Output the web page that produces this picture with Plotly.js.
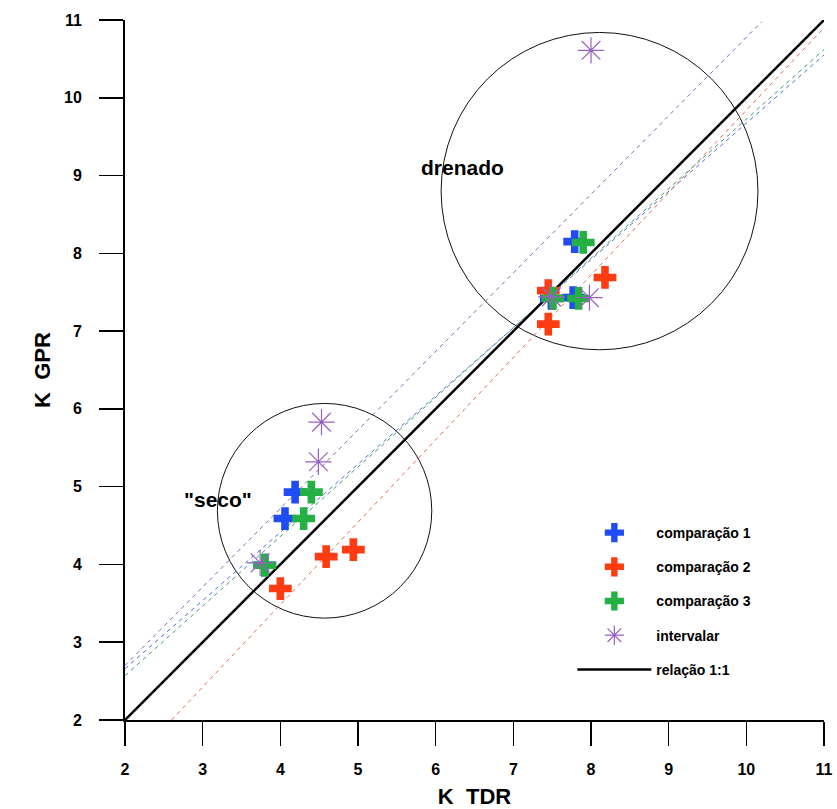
<!DOCTYPE html>
<html>
<head>
<meta charset="utf-8">
<script src="https://cdn.plot.ly/plotly-3.0.1.min.js"></script>
<style>html,body{margin:0;padding:0;background:#fff;}#chart{width:837px;height:809px;}</style>
</head>
<body>
<div id="chart"></div>
<script>
// ---- data ----
const comp1X = [4.19, 4.06, 3.80, 7.79, 7.77, 7.49];
const comp1Y = [4.93, 4.59, 3.99, 8.15, 7.43, 7.42];
const comp2X = [4.94, 4.59, 4.00, 8.18, 7.45, 7.45];
const comp2Y = [4.19, 4.10, 3.69, 7.69, 7.52, 7.09];
const comp3X = [4.40, 4.30, 3.80, 7.90, 7.51, 7.84];
const comp3Y = [4.93, 4.59, 3.99, 8.14, 7.42, 7.42];
const intervX = [3.74, 4.53, 4.49, 7.49, 7.98, 8.00];
const intervY = [4.02, 5.83, 5.32, 7.44, 7.43, 10.61];
// 1:1 line
const oneX = [2, 11];
const oneY = [2, 11];
// fitted (dashed) lines, end points
const fit1X = [2, 11];    const fit1Y = [2.66, 10.55];
const fit2X = [2.6, 11];  const fit2Y = [2, 10.9];
const fit3X = [2, 11];    const fit3Y = [2.57, 10.62];
const fitIX = [2, 10.2];  const fitIY = [2.70, 10.98];
// group circles: centre x, centre y, radius
const groupNames = ['drenado', '"seco"'];
const groupCX = [8.11, 4.57];
const groupCY = [8.80, 4.69];
const groupR = [2.04, 1.38];
const groupLabelX = [6.35, 3.20];
const groupLabelY = [9.11, 4.83];
const tickVals = [2, 3, 4, 5, 6, 7, 8, 9, 10, 11];
const seriesNames = ['comparação 1', 'comparação 2', 'comparação 3', 'intervalar', 'relação 1:1'];

const FONT = 'Arial, "Liberation Sans", sans-serif';
const cBlue = '#1f4cf5', cRed = '#ff3b12', cGreen = '#25b043', cPurple = '#9960c4';
const dash = '4px,4px';

const traces = [
  {x: fit1X, y: fit1Y, mode: 'lines', line: {color: '#4a6fd0', width: 1, dash: dash}, showlegend: false, hoverinfo: 'skip'},
  {x: fit2X, y: fit2Y, mode: 'lines', line: {color: '#e0704e', width: 1, dash: dash}, showlegend: false, hoverinfo: 'skip'},
  {x: fit3X, y: fit3Y, mode: 'lines', line: {color: '#3aa070', width: 1, dash: dash}, showlegend: false, hoverinfo: 'skip'},
  {x: fitIX, y: fitIY, mode: 'lines', line: {color: '#8a64b8', width: 1, dash: dash}, showlegend: false, hoverinfo: 'skip'},
  {x: oneX, y: oneY, mode: 'lines', name: seriesNames[4], legendgroup: 'e', legendrank: 5,
   line: {color: '#000', width: 2.5}},
  {x: comp1X, y: comp1Y, mode: 'markers', name: seriesNames[0], legendgroup: 'a', legendrank: 1,
   marker: {symbol: 'cross', size: 19, color: cBlue, line: {width: 0}}},
  {x: comp2X, y: comp2Y, mode: 'markers', name: seriesNames[1], legendgroup: 'b', legendrank: 2,
   marker: {symbol: 'cross', size: 19, color: cRed, line: {width: 0}}},
  {x: comp3X, y: comp3Y, mode: 'markers', name: seriesNames[2], legendgroup: 'c', legendrank: 3,
   marker: {symbol: 'cross', size: 19, color: cGreen, line: {width: 0}}},
  {x: intervX, y: intervY, mode: 'markers', name: seriesNames[3], legendgroup: 'd', legendrank: 4,
   marker: {symbol: 'asterisk-open', size: 22, color: cPurple, line: {width: 1.2, color: cPurple}}}
];

const shapes = groupCX.map((cx, i) => ({
  type: 'circle', xref: 'x', yref: 'y',
  x0: cx - groupR[i], x1: cx + groupR[i], y0: groupCY[i] - groupR[i], y1: groupCY[i] + groupR[i],
  line: {color: '#111', width: 1}, layer: 'below'
}));

const annotations = groupNames.map((t, i) => ({
  x: groupLabelX[i], y: groupLabelY[i], xref: 'x', yref: 'y', text: t, showarrow: false,
  font: {family: FONT, size: 21, color: '#000', weight: 'bold'}
}));

const axisCommon = {
  range: [2, 11], tickvals: tickVals, ticktext: tickVals.map(String),
  showgrid: false, zeroline: false, showline: true, linecolor: '#000', linewidth: 2,
  ticks: 'outside', ticklen: 24, tickwidth: 1.5, tickcolor: '#000',
  tickfont: {family: FONT, size: 16, color: '#000', weight: 'bold'},
  automargin: false, fixedrange: true
};

const layout = {
  width: 837, height: 809,
  margin: {l: 125, r: 13, t: 20, b: 89},
  paper_bgcolor: '#fff', plot_bgcolor: '#fff',
  showlegend: true,
  xaxis: Object.assign({}, axisCommon, {
    title: {text: 'K  TDR', font: {family: FONT, size: 22, color: '#000', weight: 'bold'}, standoff: 12},
    ticklabelstandoff: 10
  }),
  yaxis: Object.assign({}, axisCommon, {
    title: {text: 'K  GPR', font: {family: FONT, size: 22, color: '#000', weight: 'bold'}, standoff: 7},
    ticklabelstandoff: 14
  }),
  legend: {
    x: 0.64, y: 0.29, xanchor: 'left', yanchor: 'top',
    bgcolor: 'rgba(0,0,0,0)', borderwidth: 0,
    font: {family: FONT, size: 14, color: '#000', weight: 'bold'},
    itemwidth: 74, tracegroupgap: 13, traceorder: 'grouped'
  },
  shapes: shapes,
  annotations: annotations
};

Plotly.newPlot('chart', traces, layout, {staticPlot: true, displayModeBar: false});
</script>
</body>
</html>
